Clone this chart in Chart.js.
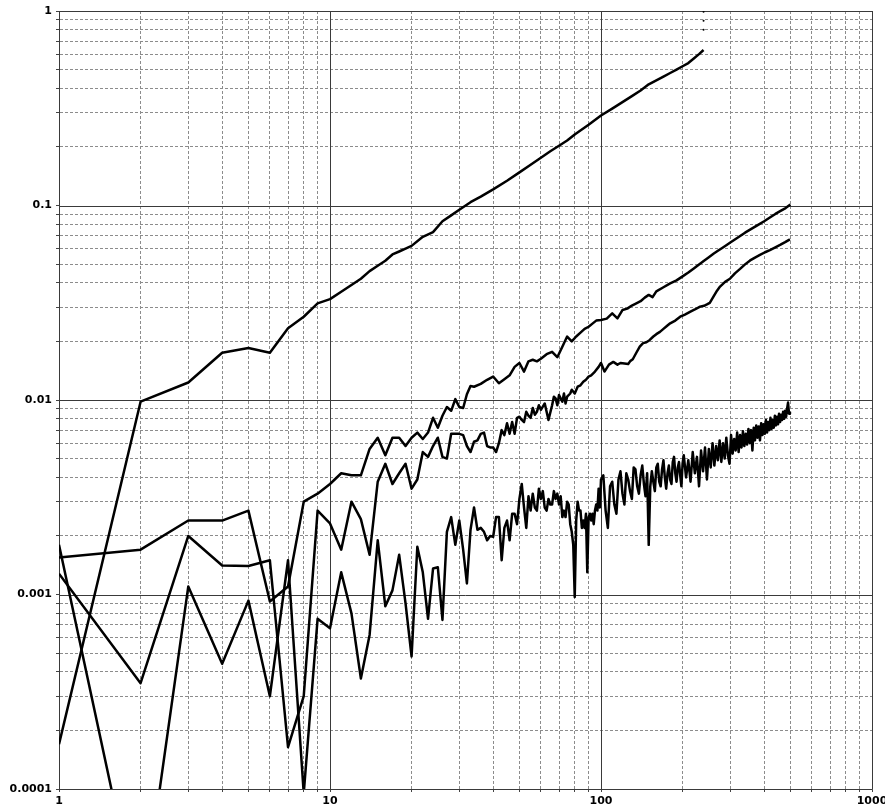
<!DOCTYPE html>
<html>
<head>
<meta charset="utf-8">
<script src="https://cdn.jsdelivr.net/npm/chart.js@4.4.1/dist/chart.umd.min.js"></script>
<style>
  html, body { margin: 0; padding: 0; background: #fff; overflow: hidden; }
  #wrap { width: 900px; height: 807px; position: relative; }
</style>
</head>
<body>
<div id="wrap"><canvas id="grafica"></canvas></div>
<script>
// ejes (decadas con etiqueta)
const xDecades = [1, 10, 100, 1000];
const xTickLabels = ['1', '10', '100', '1000'];
const yDecades = [0.0001, 0.001, 0.01, 0.1, 1];
const yTickLabels = ['0.0001', '0.001', '0.01', '0.1', '1'];

const xLow = [1,2,3,4,5,6,7,8,9,10,11,12,13,14,15,16,17,18,19,20,21,22,23,24,25,26,27,28,29,30,31,32,33,34];

// serie superior
const xA = [1,2,3,4,5,6,7,8,9,10,11,12,13,14,15,16,17,18,19,20,22,24,26,28,30,33,36,40,45,50,55,60,65,70,75,80,90,100,110,120,130,140,150,160,170,180,190,200,210,220,230,239];
const yA = [0.00017,0.0098,0.0123,0.0175,0.0185,0.0175,0.0234,0.0268,0.0314,0.033,0.036,0.039,0.042,0.046,0.049,0.052,0.056,0.058,0.060,0.062,0.069,0.073,0.083,0.089,0.095,0.104,0.111,0.121,0.134,0.148,0.162,0.176,0.19,0.203,0.216,0.232,0.26,0.29,0.315,0.34,0.365,0.39,0.42,0.44,0.46,0.48,0.50,0.52,0.54,0.57,0.60,0.63];
const xDots = [239, 239, 239];
const yDots = [0.8, 0.89, 0.99];

// segunda serie
const xB = [...xLow, 36,38,40,42,44,46,48,50,52,54,56,58,60,63,66,69,72,75,78,81,84,87,90,93,96,100,
  105,110,115,120,125,130,135,140,145,150,155,160,170,180,190,200,210,220,230,240,250,260,270,280,290,300,320,340,360,380,400,420,440,460,480,500];
const yB = [0.00155,0.0017,0.0024,0.0024,0.0027,0.00092,0.0011,0.0030,0.0033,0.0037,0.0042,0.0041,0.0041,0.0056,0.0064,0.0052,0.0064,0.0064,0.0058,0.0064,0.0068,0.0063,0.0068,0.0081,0.0072,0.0083,0.0092,0.0088,0.0101,0.0092,0.0091,0.0107,0.0118,0.0117,
  0.0121,0.0127,0.0132,0.0122,0.0128,0.0134,0.0148,0.0155,0.014,0.0158,0.0161,0.0158,0.0163,0.0172,0.0177,0.0166,0.0188,0.0212,0.02,0.0212,0.0222,0.0232,0.0238,0.0247,0.0256,0.0258,
  0.0262,0.0279,0.0263,0.029,0.0295,0.0306,0.0314,0.0322,0.0336,0.0347,0.0338,0.0362,0.038,0.0398,0.0412,0.0432,0.0452,0.0475,0.0498,0.052,0.0542,0.0565,0.0585,0.0605,0.0625,0.0645,0.0685,0.0725,0.076,0.0795,0.083,0.0868,0.0905,0.0938,0.097,0.1012];

// tercera serie
const xC = [...xLow, 35,36,37,38,39,40,41,42,43,44,45,46,47,48,49,50,51,52,53,54,55,56,57,58,59,60,
  62,63,64,66,67,68,69,70,72,73,74,75,77,78,80,82,84,86,88,90,92,95,98,100,
  103,107,111,115,118,122,126,128,131,135,139,143,147,151,156,160,165,170,175,180,188,196,204,213,222,232,240,246,252,260,268,275,287,299,312,326,340,355,370,386,403,420,438,458,478,498];
const yC = [0.00128,0.00035,0.002,0.00141,0.0014,0.0015,0.000164,0.0003,0.0027,0.00232,0.0017,0.003,0.00244,0.0016,0.0038,0.0047,0.0037,0.0042,0.0047,0.0035,0.0039,0.0054,0.0051,0.0058,0.0064,0.0051,0.005,0.0067,0.0067,0.0067,0.0066,0.0058,0.0054,0.0061,
  0.0062,0.0067,0.0068,0.0058,0.0057,0.0057,0.0054,0.006,0.007,0.0066,0.0076,0.0067,0.0077,0.0067,0.0081,0.0082,0.0079,0.0077,0.0087,0.0083,0.0081,0.0091,0.0084,0.0087,0.0094,0.0089,
  0.0096,0.0087,0.0079,0.0094,0.0104,0.0102,0.0094,0.0106,0.0098,0.0108,0.0096,0.0104,0.0108,0.0113,0.0108,0.0117,0.0119,0.0124,0.0127,0.0132,0.0134,0.014,0.0148,0.0155,
  0.014,0.0152,0.0157,0.0152,0.0155,0.0154,0.0153,0.0158,0.0162,0.0175,0.0188,0.0196,0.0198,0.0203,0.0212,0.0218,0.0224,0.0232,0.024,0.0248,0.0256,0.0268,0.0275,0.0284,0.0292,0.0302,0.0305,0.031,0.0316,0.034,0.0365,0.0383,0.0405,0.042,0.0448,0.0472,0.0498,0.0522,0.054,0.0557,0.0575,0.059,0.0608,0.0627,0.0648,0.067];

// serie inferior (ruidosa)
const xD = [...xLow, 35,36,37,38,39,40,41,42,43,44,45,46,47,48,49,50,51,52,53,54,55,56,57,58,59,60,61,62,63,64,65,66,67,68,69,70,71,72,73,74,75,76,77,78,79,80,81,82,83,84,85,86,87,88,89,90,91,92,93,94,95,96,97,98,99,100,
  102,104,106,108,110,112,114,116,118,120,122,124,126,128,130,132,134,136,138,140,142,144,146,148,150,152,154,156,158,160,162,164,166,168,170,172,174,176,178,180,182,184,186,188,190,192,194,196,198,200,
  202,206,210,214,218,222,226,230,234,238,242,246,250,254,258,262,266,270,274,278,282,286,290,294,298,
  302,306,310,314,318,322,326,330,334,338,342,346,350,354,358,362,366,370,374,378,382,386,390,394,398,402,406,410,414,418,422,426,430,434,438,442,446,450,454,458,462,466,470,474,478,482,486,490,494,498];
const yD = [0.0018,0.00002,0.0011,0.00044,0.00093,0.0003,0.0015,0.000095,0.00075,0.00067,0.0013,0.0008,0.00037,0.00062,0.0019,0.00087,0.00105,0.0016,0.0009,0.00048,0.00176,0.0013,0.00075,0.00136,0.00138,0.00074,0.0021,0.0025,0.0018,0.0024,0.0017,0.00114,0.00215,0.0028,
  0.00215,0.0022,0.0021,0.0019,0.002,0.00198,0.0025,0.0025,0.0015,0.0022,0.0024,0.0019,0.0026,0.0026,0.0023,0.0031,0.0037,0.0028,0.0022,0.0032,0.0027,0.0033,0.0028,0.0027,0.0035,0.0031,
  0.0034,0.0028,0.0027,0.0031,0.0029,0.0029,0.0034,0.0031,0.0033,0.0029,0.0032,0.0025,0.0027,0.0025,0.003,0.0029,0.0023,0.0021,0.0018,0.00097,0.0024,0.003,0.0027,0.0027,
  0.0022,0.0024,0.0022,0.0026,0.0013,0.0025,0.0026,0.0024,0.0026,0.0023,0.0027,0.0029,0.0027,0.0035,0.0028,0.0039,
  0.0041,0.0027,0.0022,0.0036,0.0038,0.0029,0.0026,0.0039,0.0043,0.0033,0.0029,0.0042,0.0039,0.0034,0.0031,0.0045,0.0044,0.0036,0.0033,0.0041,
  0.0046,0.0037,0.0032,0.0042,0.0018,0.0036,0.0043,0.0038,0.0034,0.0045,0.0047,0.0038,0.0036,0.0044,0.0049,0.004,0.0035,0.0042,0.0046,0.0039,
  0.0037,0.0048,0.0051,0.0042,0.0038,0.0045,0.0048,0.0041,0.0036,0.0047,
  0.0052,0.004,0.0049,0.0038,0.0054,0.0042,0.0051,0.0036,0.0055,0.0043,0.0057,0.0039,0.0056,0.0045,0.006,
  0.0046,0.0058,0.0049,0.0062,0.0048,0.006,0.005,0.0064,0.0052,0.0047,0.0066,0.0053,0.0063,0.0055,0.0068,0.0054,0.0066,0.0057,0.0069,0.0058,
  0.0067,0.0059,0.0071,0.006,0.007,0.0055,0.0072,0.0062,0.0074,0.0064,0.0073,0.0062,0.0076,0.0066,0.0075,0.0067,0.0079,0.0068,0.0077,0.007,
  0.0081,0.0071,0.0079,0.0072,0.0083,0.0074,0.0082,0.0075,0.0085,0.0077,0.0084,0.0079,0.0087,0.008,0.0088,0.0082,0.009,0.0097,0.0085,0.0087];

function puntos(xs, ys) {
    return xs.map((x, i) => ({ x: x, y: ys[i] }));
}

function gridValues(decades) {
    const vals = [];
    for (let i = 0; i < decades.length - 1; i++) {
        for (let k = 1; k <= 9; k++) vals.push(k === 1 ? decades[i] : decades[i] * k);
    }
    vals.push(decades[decades.length - 1]);
    return vals;
}

function etiqueta(v, decades, labels) {
    const i = decades.indexOf(v);
    return i >= 0 ? labels[i] : '';
}

const fuente = { family: 'DejaVu Sans', size: 11, weight: 'bold' };

// lineas mayores solidas por encima de la rejilla punteada
const rejillaMayor = {
    id: 'rejillaMayor',
    beforeDatasetsDraw(chart) {
        const { ctx, chartArea: a, scales: { x, y } } = chart;
        ctx.save();
        ctx.strokeStyle = '#3a3a3a';
        ctx.lineWidth = 1;
        ctx.beginPath();
        xDecades.forEach(v => {
            const p = Math.round(x.getPixelForValue(v)) + 0.5;
            ctx.moveTo(p, a.top);
            ctx.lineTo(p, a.bottom);
        });
        yDecades.forEach(v => {
            const p = Math.round(y.getPixelForValue(v)) + 0.5;
            ctx.moveTo(a.left, p);
            ctx.lineTo(a.right, p);
        });
        ctx.stroke();
        ctx.restore();
    }
};

const serie = (xs, ys) => ({
    data: puntos(xs, ys),
    borderColor: '#000',
    borderWidth: 2.5,
    pointRadius: 0,
    tension: 0,
    borderJoinStyle: 'round',
    fill: false
});

new Chart(document.getElementById('grafica'), {
    type: 'line',
    data: {
        datasets: [
            serie(xD, yD),
            serie(xC, yC),
            serie(xB, yB),
            serie(xA, yA),
            {
                data: puntos(xDots, yDots),
                showLine: false,
                pointRadius: 1,
                pointBackgroundColor: '#000',
                pointBorderWidth: 0
            }
        ]
    },
    options: {
        responsive: true,
        maintainAspectRatio: false,
        animation: false,
        layout: { padding: { top: 11, right: 28, left: 0, bottom: 0 } },
        plugins: { legend: { display: false }, tooltip: { enabled: false } },
        scales: {
            x: {
                type: 'logarithmic',
                min: 1,
                max: 1000,
                afterBuildTicks: s => { s.ticks = gridValues(xDecades).map(v => ({ value: v })); },
                afterFit: s => { s.height = 18; },
                ticks: {
                    autoSkip: false, maxRotation: 0, padding: 3, color: '#000', font: fuente,
                    callback: v => etiqueta(v, xDecades, xTickLabels)
                },
                grid: {
                    color: c => (c.tick && xDecades.includes(c.tick.value)) ? 'rgba(0,0,0,0)' : '#8c8c8c',
                    tickColor: '#444', tickLength: 3, lineWidth: 1
                },
                border: { color: '#555', dash: [3, 2] }
            },
            y: {
                type: 'logarithmic',
                min: 0.0001,
                max: 1,
                afterBuildTicks: s => { s.ticks = gridValues(yDecades).map(v => ({ value: v })); },
                afterFit: s => { s.width = 59; },
                ticks: {
                    autoSkip: false, padding: 4, color: '#000', font: fuente,
                    callback: v => etiqueta(v, yDecades, yTickLabels)
                },
                grid: {
                    color: c => (c.tick && yDecades.includes(c.tick.value)) ? 'rgba(0,0,0,0)' : '#8c8c8c',
                    tickColor: '#444', tickLength: 3, lineWidth: 1
                },
                border: { color: '#555', dash: [3, 2] }
            }
        }
    },
    plugins: [rejillaMayor]
});
</script>
</body>
</html>
